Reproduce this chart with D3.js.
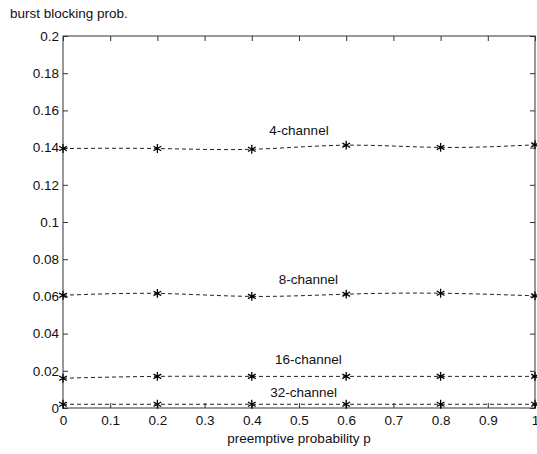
<!DOCTYPE html>
<html><head><meta charset="utf-8">
<script src="https://cdn.jsdelivr.net/npm/d3@7"></script>
<style>body{margin:0;background:#fff}svg{display:block}text{font-family:"Liberation Sans",Arial,sans-serif;fill:#111}</style>
</head><body><svg id="c" width="537" height="454"></svg>
<script>
const pValues = [0, 0.2, 0.4, 0.6, 0.8, 1.0];
const ch4 = [0.1395, 0.1395, 0.1391, 0.1413, 0.1401, 0.1415];
const ch8 = [0.0606, 0.0616, 0.0600, 0.0612, 0.0617, 0.0603];
const ch16 = [0.0160, 0.0170, 0.0170, 0.0170, 0.0170, 0.0170];
const ch32 = [0.0020, 0.0020, 0.0020, 0.0020, 0.0020, 0.0020];
const seriesNames = ["4-channel", "8-channel", "16-channel", "32-channel"];
const xTicks = [0,0.1,0.2,0.3,0.4,0.5,0.6,0.7,0.8,0.9,1];
const yTicks = [0,0.02,0.04,0.06,0.08,0.1,0.12,0.14,0.16,0.18,0.2];
const labelPos = [[0.5, 0.1468],[0.52, 0.0668],[0.52, 0.0238],[0.51, 0.0060]];

const svg = d3.select("#c");
const L=63, R=535, T=36, B=408;
const x = d3.scaleLinear().domain([0,1]).range([L,R]);
const y = d3.scaleLinear().domain([0,0.2]).range([B,T]);
const ax = "#333";

svg.append("rect").attr("x",L).attr("y",T).attr("width",R-L).attr("height",B-T)
  .attr("fill","none").attr("stroke",ax).attr("stroke-width",1);

const fmt = d => d===0?"0":(d===1?"1":String(+d.toFixed(2)));
const xb = svg.append("g").attr("transform",`translate(0,${B})`)
  .call(d3.axisBottom(x).tickValues(xTicks).tickSize(-5).tickPadding(7).tickFormat(fmt));
const xt = svg.append("g").attr("transform",`translate(0,${T})`)
  .call(d3.axisTop(x).tickValues(xTicks).tickSize(-5).tickFormat(""));
const yl = svg.append("g").attr("transform",`translate(${L},0)`)
  .call(d3.axisLeft(y).tickValues(yTicks).tickSize(-5).tickPadding(4).tickFormat(fmt));
const yr = svg.append("g").attr("transform",`translate(${R},0)`)
  .call(d3.axisRight(y).tickValues(yTicks).tickSize(-5).tickFormat(""));
[xb,xt,yl,yr].forEach(g=>{
  g.select(".domain").remove();
  g.selectAll("line").attr("stroke",ax);
  g.selectAll("text").attr("font-size",13.5).attr("font-family","Liberation Sans, Arial, sans-serif").attr("fill","#111");
});

const data = [ch4, ch8, ch16, ch32];
const line = d3.line().x((d,i)=>x(pValues[i])).y(d=>y(d)).curve(d3.curveNatural);
const star = d3.symbol().type(d3.symbolAsterisk).size(55);
data.forEach((s,k)=>{
  svg.append("path").attr("d",line(s)).attr("fill","none").attr("stroke","#222")
    .attr("stroke-width",1).attr("stroke-dasharray","4,3");
  svg.append("g").selectAll("path").data(s).join("path")
    .attr("d",star).attr("transform",(d,i)=>`translate(${x(pValues[i])},${y(d)})`)
    .attr("fill","none").attr("stroke","#000").attr("stroke-width",1.3);
  svg.append("text").attr("x",x(labelPos[k][0])).attr("y",y(labelPos[k][1]))
    .attr("text-anchor","middle").attr("font-size",13.5).text(seriesNames[k]);
});

svg.append("text").attr("x",10).attr("y",18).attr("font-size",13.5).text("burst blocking prob.");
svg.append("text").attr("x",(L+R)/2).attr("y",443).attr("text-anchor","middle").attr("font-size",13.5).text("preemptive probability p");
</script></body></html>
